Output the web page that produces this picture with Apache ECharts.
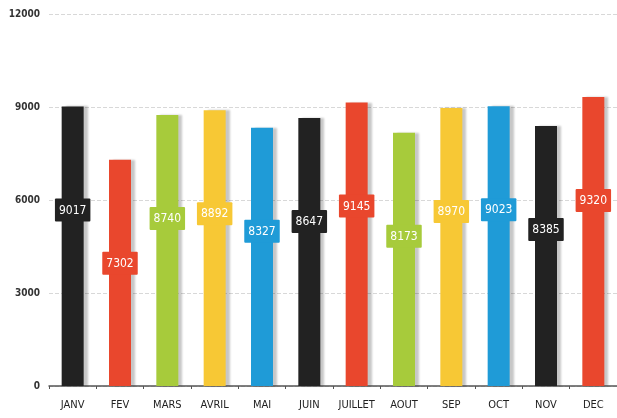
<!DOCTYPE html>
<html>
<head>
<meta charset="utf-8">
<script src="https://cdn.jsdelivr.net/npm/echarts@6/dist/echarts.min.js"></script>
<style>
html, body { margin: 0; padding: 0; background: #fff; }
#chart { width: 617px; height: 418px; }
</style>
</head>
<body>
<div id="chart"></div>
<script>
// mois
var mois = ['JANV', 'FEV', 'MARS', 'AVRIL', 'MAI', 'JUIN', 'JUILLET', 'AOUT', 'SEP', 'OCT', 'NOV', 'DEC'];
// valeurs
var valeurs = [9017, 7302, 8740, 8892, 8327, 8647, 9145, 8173, 8970, 9023, 8385, 9320];
// couleurs des barres
var couleurs = ['#222222', '#e9472d', '#a7cb3b', '#f7c835', '#1f9bd7', '#222222',
                '#e9472d', '#a7cb3b', '#f7c835', '#1f9bd7', '#222222', '#e9472d'];
var yTicks = [0, 3000, 6000, 9000, 12000];

var police = '"Liberation Sans Narrow", "DejaVu Sans Condensed", sans-serif';

var donnees = valeurs.map(function (v, i) {
	return {
		value: v,
		itemStyle: { color: couleurs[i] },
		label: { backgroundColor: couleurs[i] }
	};
});

var chart = echarts.init(document.getElementById('chart'));
chart.setOption({
	animation: false,
	grid: { left: 49, right: 0, top: 14, bottom: 32 },
	xAxis: {
		type: 'category',
		data: mois,
		axisLine: { lineStyle: { color: '#555', width: 1.5 } },
		axisTick: { show: true, length: 3, lineStyle: { color: '#555' } },
		axisLabel: { color: '#222', fontSize: 11, fontFamily: police, margin: 14 }
	},
	yAxis: {
		type: 'value',
		min: yTicks[0],
		max: yTicks[yTicks.length - 1],
		interval: 3000,
		axisLine: { show: false },
		axisTick: { show: false },
		axisLabel: {
			color: '#333', fontSize: 10, fontWeight: 'bold', fontFamily: police, margin: 9,
			formatter: function (v) { return String(v); }
		},
		splitLine: { lineStyle: { color: '#d8d8d8', type: 'dashed' } }
	},
	series: [{
		type: 'bar',
		data: donnees,
		barWidth: 22,
		itemStyle: {
			shadowColor: 'rgba(0,0,0,0.22)',
			shadowOffsetX: 4,
			shadowBlur: 2
		},
		label: {
			show: true,
			position: 'insideTop',
			distance: 92,
			color: '#fff',
			fontSize: 12,
			fontFamily: police,
			padding: [6, 4, 5, 4],
			borderRadius: 1
		}
	}]
});
</script>
</body>
</html>
